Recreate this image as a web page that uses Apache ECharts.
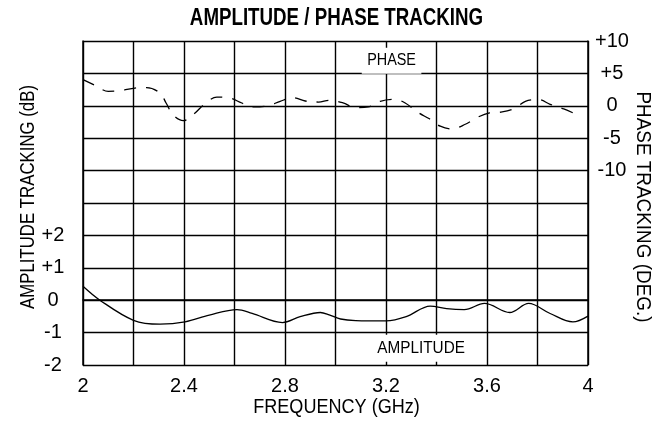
<!DOCTYPE html>
<html>
<head>
<meta charset="utf-8">
<script src="https://cdn.jsdelivr.net/npm/echarts@6/dist/echarts.min.js"></script>
<style>
html,body{margin:0;padding:0;background:#fff;}
#chart{width:667px;height:424px;}
</style>
</head>
<body>
<div id="chart"></div>
<script>
// Amplitude tracking (dB) vs frequency (GHz)
var ampFreq = [2.0, 2.067, 2.2, 2.305, 2.404, 2.5, 2.61, 2.67, 2.79, 2.86, 2.94, 2.975, 3.02, 3.08, 3.2, 3.28, 3.375, 3.44, 3.51, 3.59, 3.69, 3.765, 3.85, 3.94, 4.0];
var ampValues = [0.43, 0, -0.62, -0.74, -0.67, -0.46, -0.29, -0.41, -0.69, -0.51, -0.38, -0.45, -0.58, -0.63, -0.64, -0.51, -0.18, -0.26, -0.29, -0.10, -0.38, -0.10, -0.41, -0.67, -0.49];
// Phase tracking (deg) vs frequency (GHz)
var phaseFreq = [2.0, 2.048, 2.10, 2.147, 2.206, 2.252, 2.305, 2.329, 2.358, 2.397, 2.444, 2.48, 2.53, 2.576, 2.629, 2.675, 2.734, 2.781, 2.833, 2.88, 2.933, 2.976, 3.03, 3.078, 3.13, 3.177, 3.236, 3.276, 3.33, 3.37, 3.415, 3.46, 3.514, 3.56, 3.61, 3.66, 3.712, 3.752, 3.805, 3.85, 3.904, 3.95];
var phaseValues = [4.03, 3.15, 2.23, 2.33, 2.74, 2.8, 1.97, 0.43, -1.46, -2.3, -1.1, 0.23, 1.35, 1.26, 0.43, -0.18, 0, 0.7, 1.26, 0.74, 0.58, 0.85, 0.45, -0.28, -0.18, 0.7, 1.0, 0.43, -1.1, -1.97, -3.15, -3.57, -2.85, -1.82, -1.1, -0.95, -0.34, 0.7, 0.95, 0.23, -0.49, -1.26];
// Tick labels shown
var xTickLabels = ['2', '2.4', '2.8', '3.2', '3.6', '4'];
var ampTickLabels = ['-2', '-1', '0', '+1', '+2'];
var phaseTickLabels = ['-10', '-5', '0', '+5', '+10'];
// Texts
var chartTitle = 'AMPLITUDE / PHASE TRACKING';
var xName = 'FREQUENCY (GHz)';
var ampName = 'AMPLITUDE TRACKING (dB)';
var phaseName = 'PHASE TRACKING (DEG.)';

var FONT = "'Liberation Sans', Arial, sans-serif";
var LINE = '#000';

function zip(a, b) { return a.map(function (v, i) { return [v, b[i]]; }); }
function fmtSigned(v) { return v > 0 ? '+' + v : String(v); }

var chart = echarts.init(document.getElementById('chart'), null, {renderer: 'canvas'});
var option = {
  animation: false,
  backgroundColor: '#fff',
  grid: {left: 83, right: 79, top: 41, bottom: 59},
  xAxis: {
    type: 'value', min: 2, max: 4, interval: 0.2,
    axisLine: {show: true, lineStyle: {color: LINE, width: 1.5}},
    axisTick: {show: false},
    splitLine: {show: true, lineStyle: {color: LINE, width: 1.4}},
    axisLabel: {
      fontFamily: FONT, fontSize: 20, color: '#000', margin: 11,
      formatter: function (v) {
        var s = String(Math.round(v * 10) / 10);
        return xTickLabels.indexOf(s) >= 0 ? s : '';
      }
    }
  },
  yAxis: [{
    type: 'value', min: -2, max: 8, interval: 1, position: 'left',
    axisLine: {show: true, lineStyle: {color: LINE, width: 1.5}},
    axisTick: {show: false},
    splitLine: {show: true, lineStyle: {color: LINE, width: 1.4}},
    axisLabel: {
      fontFamily: FONT, fontSize: 20, color: '#000', margin: 30, align: 'center',
      formatter: function (v) {
        var s = fmtSigned(Math.round(v));
        return ampTickLabels.indexOf(s) >= 0 ? s : '';
      }
    }
  }, {
    type: 'value', min: -40, max: 10, interval: 5, position: 'right',
    axisLine: {show: true, lineStyle: {color: LINE, width: 1.5}},
    axisTick: {show: false},
    splitLine: {show: false},
    axisLabel: {
      fontFamily: FONT, fontSize: 20, color: '#000', margin: 24, align: 'center',
      formatter: function (v) {
        var s = fmtSigned(Math.round(v));
        return phaseTickLabels.indexOf(s) >= 0 ? s : '';
      }
    }
  }],
  series: [{
    name: 'AMPLITUDE', type: 'line', yAxisIndex: 0, smooth: 0.35,
    showSymbol: false, symbol: 'none',
    lineStyle: {color: '#000', width: 1.3},
    data: zip(ampFreq, ampValues), z: 5
  }, {
    name: 'PHASE', type: 'line', yAxisIndex: 1, smooth: 0.35,
    showSymbol: false, symbol: 'none',
    lineStyle: {color: '#000', width: 1.3, type: [12, 10]},
    data: zip(phaseFreq, phaseValues), z: 5
  }]
};
chart.setOption(option);

// Condensed-looking texts (horizontally compressed) and in-plot labels
var pPhase = chart.convertToPixel({xAxisIndex: 0, yAxisIndex: 1}, [3.222, 6.95]);
var pAmp = chart.convertToPixel({xAxisIndex: 0, yAxisIndex: 0}, [3.339, -1.48]);
var cx = chart.convertToPixel({xAxisIndex: 0}, 3.0);
function txt(t, x, y, size, weight, sx, rot, extra) {
  var st = {text: t, align: 'center', verticalAlign: 'middle',
    font: (weight || 'normal') + ' ' + size + 'px ' + FONT, fill: '#000'};
  if (extra) { for (var k in extra) st[k] = extra[k]; }
  return {type: 'text', x: x, y: y, scaleX: sx, rotation: rot || 0, z: 10, style: st};
}
chart.setOption({
  graphic: [
    txt(chartTitle, cx + 1, 18, 24, 'bold', 0.78),
    txt(xName, cx + 1, 407, 21, 'normal', 0.86),
    txt(ampName, 28, 197, 21, 'normal', 0.8, Math.PI / 2),
    txt(phaseName, 643, 207, 21, 'normal', 0.9, -Math.PI / 2),
    txt('PHASE', pPhase[0], pPhase[1], 16, 'normal', 0.9, 0, {backgroundColor: '#fff', padding: [5, 6]}),
    txt('AMPLITUDE', pAmp[0], pAmp[1], 17, 'normal', 0.9, 0, {backgroundColor: '#fff', padding: [5, 6]})
  ]
});
</script>
</body>
</html>
